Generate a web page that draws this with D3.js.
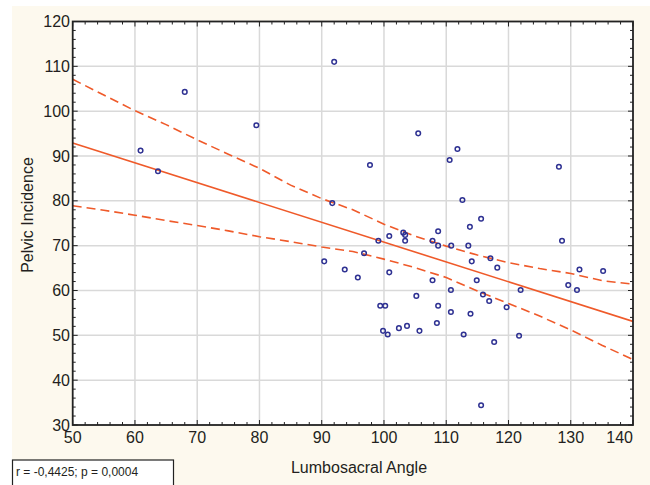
<!DOCTYPE html>
<html><head><meta charset="utf-8">
<script src="https://cdn.jsdelivr.net/npm/d3@7"></script>
<style>
html,body{margin:0;padding:0;background:#fff;}
svg{display:block;font-family:"Liberation Sans",Arial,sans-serif;}
</style></head>
<body>
<script>
// ---- data ----
const angleX = [60.9,63.7,68.0,79.5,92.0,105.5,97.75,91.7,90.4,93.7,95.8,96.8,99.1,100.85,103.1,103.4,103.4,100.85,99.4,100.2,
  99.85,100.6,102.4,103.7,105.2,105.7,107.8,108.7,108.7,107.8,108.7,108.5,110.55,111.8,112.6,110.8,110.75,110.75,112.8,113.55,
  113.8,113.9,115.6,114.1,114.9,115.9,116.9,117.1,118.2,119.7,117.7,121.95,121.7,115.6,128.1,128.6,129.6,131.0,131.4,135.2];
const incidenceY = [91.2,86.6,104.3,96.85,111.0,95.05,88.0,79.5,66.5,64.7,62.9,68.3,71.1,72.15,72.9,72.4,71.1,64.05,56.6,56.6,
  51.0,50.2,51.6,52.1,58.8,51.0,71.1,73.2,70.0,62.3,56.6,52.75,89.1,91.55,80.2,70.0,60.1,55.2,50.2,70.0,
  74.2,54.8,76.0,66.5,62.3,59.1,57.65,67.2,65.1,56.25,48.5,60.1,49.9,34.4,87.6,71.1,61.2,60.1,64.7,64.35];
const fitX = [50,140];
const fitY = [92.9,53.1];
const bandX = [50,55,60,65,70,75,80,85,90,95,100,105,110,115,120,125,130,135,140];
const upperY = [107.1,103.6,100.1,97.0,93.6,90.4,87.25,83.5,80.5,78.0,74.8,72.1,69.9,67.9,66.2,64.9,63.8,62.2,61.4];
const lowerY = [78.9,77.9,76.8,75.6,74.5,73.3,72.0,70.9,69.7,68.7,67.0,65.1,62.9,59.9,57.1,54.3,51.2,47.8,44.6];
const xTicks = [50,60,70,80,90,100,110,120,130,140];
const yTicks = [30,40,50,60,70,80,90,100,110,120];
const xTitle = "Lumbosacral Angle";
const yTitle = "Pelvic Incidence";
const statText = "r = -0,4425; p = 0,0004";

// ---- layout ----
const W = 650, H = 485;
const L = 72.7, R = 633, T = 21.5, B = 425;
const lineColor = "#ef5a2a", pointColor = "#2e3192", textColor = "#231f20";

const svg = d3.select("body").append("svg").attr("width", W).attr("height", H);
svg.append("rect").attr("x",0).attr("y",0).attr("width",W).attr("height",H).attr("fill","#fff");
svg.append("rect").attr("x",12).attr("y",6).attr("width",W-12).attr("height",H-6).attr("fill","#fdf9ee");

const x = d3.scaleLinear().domain([50,140]).range([L,R]);
const y = d3.scaleLinear().domain([30,120]).range([B,T]);

svg.append("rect").attr("x",L).attr("y",T).attr("width",R-L).attr("height",B-T).attr("fill","#fff");

// grid
const grid = svg.append("g").attr("stroke","#d9d9d9").attr("stroke-width",1.5);
xTicks.slice(1,-1).forEach(v=>grid.append("line").attr("x1",x(v)).attr("x2",x(v)).attr("y1",T).attr("y2",B));
yTicks.slice(1,-1).forEach(v=>grid.append("line").attr("y1",y(v)).attr("y2",y(v)).attr("x1",L).attr("x2",R));

// clip
svg.append("clipPath").attr("id","clip").append("rect").attr("x",L).attr("y",T).attr("width",R-L).attr("height",B-T);
const plot = svg.append("g").attr("clip-path","url(#clip)");

const line = d3.line().x(d=>x(d[0])).y(d=>y(d[1]));
plot.append("path").attr("d", line(bandX.map((v,i)=>[v,upperY[i]])))
  .attr("fill","none").attr("stroke",lineColor).attr("stroke-width",1.6).attr("stroke-dasharray","9,5");
plot.append("path").attr("d", line(bandX.map((v,i)=>[v,lowerY[i]])))
  .attr("fill","none").attr("stroke",lineColor).attr("stroke-width",1.6).attr("stroke-dasharray","9,5");
plot.append("path").attr("d", line(fitX.map((v,i)=>[v,fitY[i]])))
  .attr("fill","none").attr("stroke",lineColor).attr("stroke-width",1.6);

plot.selectAll("circle").data(angleX.map((v,i)=>[v,incidenceY[i]])).enter().append("circle")
  .attr("cx",d=>x(d[0])).attr("cy",d=>y(d[1])).attr("r",2.3)
  .attr("fill","none").attr("stroke",pointColor).attr("stroke-width",1.5);

// axes (inward ticks on all sides)
const minorX = d3.range(50,141,2), minorY = d3.range(30,121,2);
const tk = svg.append("g").attr("stroke","#222").attr("stroke-width",1);
minorX.forEach(v=>{
  const len = (v%10===0)?5:3;
  tk.append("line").attr("x1",x(v)).attr("x2",x(v)).attr("y1",B).attr("y2",B-len);
  tk.append("line").attr("x1",x(v)).attr("x2",x(v)).attr("y1",T).attr("y2",T+len);
});
minorY.forEach(v=>{
  const len = (v%10===0)?5:3;
  tk.append("line").attr("y1",y(v)).attr("y2",y(v)).attr("x1",L).attr("x2",L+len);
  tk.append("line").attr("y1",y(v)).attr("y2",y(v)).attr("x1",R).attr("x2",R-len);
});
svg.append("rect").attr("x",L).attr("y",T).attr("width",R-L).attr("height",B-T)
  .attr("fill","none").attr("stroke","#222").attr("stroke-width",1.8);

// tick labels
const xl = svg.append("g").attr("font-size",16).attr("fill",textColor);
xTicks.forEach((v,i)=>{
  const last = i===xTicks.length-1;
  xl.append("text").attr("x", last? R : x(v)).attr("y",443)
    .attr("text-anchor", last? "end":"middle").text(v);
});
const yl = svg.append("g").attr("font-size",16).attr("fill",textColor);
yTicks.forEach(v=>{
  yl.append("text").attr("x",70).attr("y",y(v)).attr("dy","0.35em").attr("text-anchor","end").text(v);
});

// titles
svg.append("text").attr("x",359).attr("y",473).attr("text-anchor","middle")
  .attr("font-size",16).attr("fill",textColor).text(xTitle);
svg.append("text").attr("transform","translate(33,215) rotate(-90)").attr("text-anchor","middle")
  .attr("font-size",16).attr("fill",textColor).text(yTitle);

// stat box
svg.append("rect").attr("x",12.5).attr("y",460).attr("width",161).attr("height",40)
  .attr("fill","#fff").attr("stroke","#222").attr("stroke-width",1.2);
svg.append("text").attr("x",16).attr("y",476).attr("font-size",12).attr("fill",textColor).text(statText);
</script>
</body></html>
